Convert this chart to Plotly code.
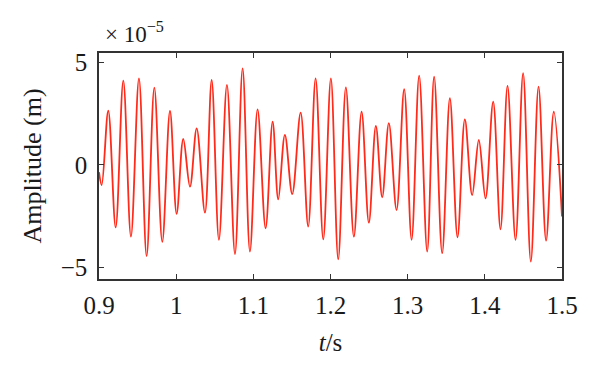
import plotly.graph_objects as go

# Local extrema (time in s, amplitude in units of 1e-5 m)
t = [0.9, 0.9035, 0.912, 0.9216, 0.9315, 0.9414, 0.9518, 0.9617, 0.9717, 0.982,
     0.992, 1.0006, 1.0092, 1.0179, 1.0266, 1.0373, 1.046, 1.0554, 1.0658, 1.0762,
     1.0861, 1.0956, 1.1055, 1.1159, 1.125, 1.1323, 1.1409, 1.1504, 1.1613, 1.1711,
     1.1807, 1.1906, 1.2005, 1.21, 1.2199, 1.2303, 1.2403, 1.2497, 1.2588, 1.267,
     1.2756, 1.2856, 1.2955, 1.3051, 1.3149, 1.3253, 1.3343, 1.3447, 1.3547, 1.3646,
     1.3741, 1.3836, 1.3922, 1.4009, 1.4108, 1.4203, 1.4294, 1.4398, 1.4496, 1.4596,
     1.4696, 1.4794, 1.4894, 1.5]
amp = [-0.35, -0.98, 2.65, -3.05, 4.12, -3.5, 4.23, -4.45, 3.78, -3.75,
       2.64, -2.39, 1.27, -1.06, 1.79, -2.33, 4.15, -3.66, 3.91, -4.35,
       4.72, -4.23, 2.72, -3.09, 2.12, -1.68, 1.47, -1.42, 2.56, -3.01,
       4.23, -3.63, 4.23, -4.61, 3.79, -3.5, 2.6, -2.82, 1.91, -1.58,
       2.04, -2.2, 3.7, -3.66, 4.36, -4.23, 4.31, -4.31, 3.26, -3.53,
       2.23, -1.47, 1.22, -1.63, 3.09, -3.14, 3.86, -3.66, 4.48, -4.72,
       3.83, -3.7, 2.6, -2.52]

x_ticks = [0.9, 1.0, 1.1, 1.2, 1.3, 1.4, 1.5]
x_labels = ["0.9", "1", "1.1", "1.2", "1.3", "1.4", "1.5"]
y_ticks = [-5, 0, 5]
y_labels = ["\u22125", "0", "5"]

font_family = "Liberation Serif"

fig = go.Figure()
fig.add_trace(go.Scatter(
    x=t, y=amp, mode="lines",
    line=dict(color="#ff2a1a", width=1.8, shape="spline", smoothing=1.0),
    showlegend=False, hoverinfo="skip"))

axis_common = dict(
    showgrid=False, zeroline=False, showline=True, linecolor="#333333", linewidth=1.5,
    mirror="ticks", ticks="inside", ticklen=5, tickwidth=1.2, tickcolor="#333333",
    tickfont=dict(family=font_family, size=25, color="#1a1a1a"))

fig.update_layout(
    width=600, height=372,
    margin=dict(l=99, r=38, t=53, b=93),
    paper_bgcolor="white", plot_bgcolor="white",
    font=dict(family=font_family, color="#1a1a1a"),
    xaxis=dict(range=[0.9, 1.5], tickvals=x_ticks, ticktext=x_labels, ticklabelstandoff=3,
               title=dict(text="<i>t</i>/s", font=dict(family=font_family, size=25), standoff=16),
               **axis_common),
    yaxis=dict(range=[-5.57, 5.47], tickvals=y_ticks, ticktext=y_labels, ticklabelstandoff=5,
               title=dict(text="Amplitude (m)", font=dict(family=font_family, size=26), standoff=12),
               **axis_common),
)
fig.add_annotation(text="\u00d7 10<sup>\u22125</sup>", xref="paper", yref="paper",
                   x=0.0, y=1.0, xanchor="left", yanchor="bottom", yshift=4, xshift=4,
                   showarrow=False, font=dict(family=font_family, size=23, color="#1a1a1a"))

fig.write_html("out.html")
